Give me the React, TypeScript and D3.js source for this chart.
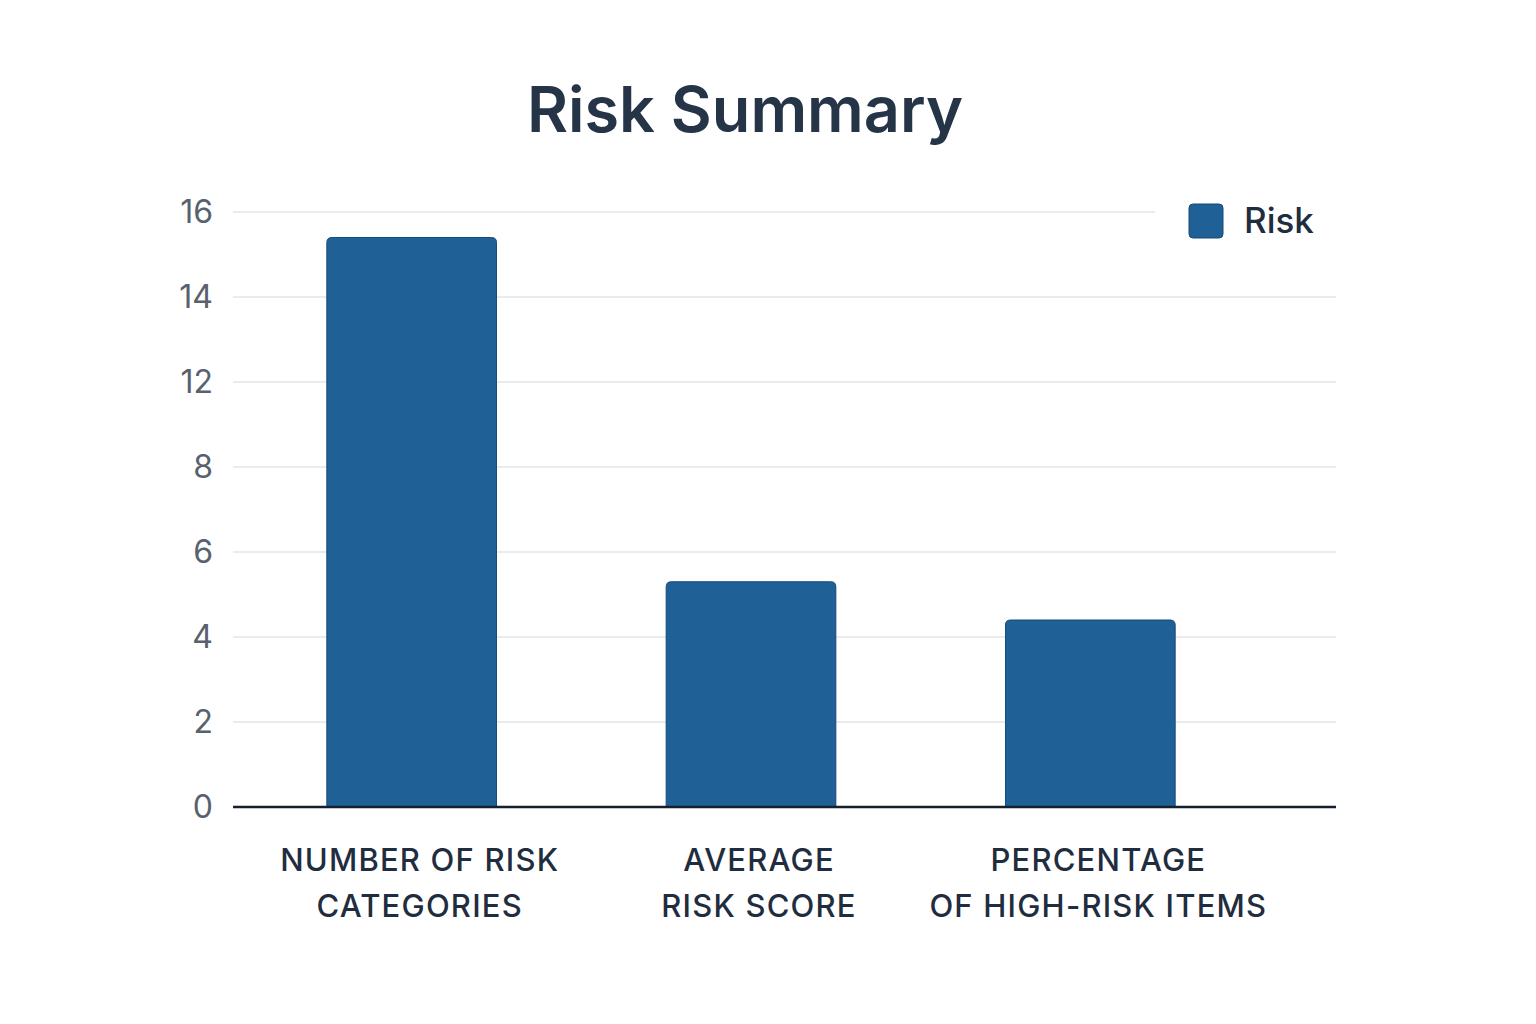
import React, { useRef, useEffect } from 'react';
import * as d3 from 'd3';

// Chart data
const categories = [
  ['NUMBER OF RISK', 'CATEGORIES'],
  ['AVERAGE', 'RISK SCORE'],
  ['PERCENTAGE', 'OF HIGH-RISK ITEMS'],
];
const riskValues = [15.4, 5.3, 4.4];
// The axis in the picture skips 10, so the ticks are evenly spaced but not evenly valued
const yTickValues = [0, 2, 4, 6, 8, 12, 14, 16];
const seriesName = 'Risk';
const chartTitle = 'Risk Summary';

const WIDTH = 1536;
const HEIGHT = 1024;
const BAR_COLOR = '#1f6097';
const TEXT_DARK = '#1f2d3f';
const FONT = 'Inter, "Noto Sans", sans-serif';

export default function App() {
  const svgRef = useRef<SVGSVGElement>(null);

  useEffect(() => {
    if (!svgRef.current) return;
    const svg = d3.select(svgRef.current);
    svg.selectAll('*').remove();

    const plot = { left: 233, right: 1336, top: 212, bottom: 807 };

    // piecewise linear scale: each tick gets an equal slot
    const step = (plot.bottom - plot.top) / (yTickValues.length - 1);
    const y = d3.scaleLinear()
      .domain(yTickValues)
      .range(yTickValues.map((_, i) => plot.bottom - i * step));

    const x = d3.scaleBand<number>()
      .domain(categories.map((_, i) => i))
      .range([242, 1260])
      .paddingInner(0.5)
      .paddingOuter(0.25);

    // background
    svg.append('rect')
      .attr('width', WIDTH)
      .attr('height', HEIGHT)
      .attr('fill', '#ffffff');

    // title
    svg.append('text')
      .attr('x', 745)
      .attr('y', 132)
      .attr('text-anchor', 'middle')
      .style('font-family', FONT)
      .style('font-size', '63px')
      .style('font-weight', 600)
      .style('fill', '#253447')
      .text(chartTitle);

    const legendX = 1189;

    // gridlines
    svg.append('g')
      .selectAll('line')
      .data(yTickValues.filter(v => v !== 0))
      .join('line')
      .attr('x1', plot.left)
      .attr('x2', (d, i) => (i === yTickValues.length - 2 ? legendX - 34 : plot.right))
      .attr('y1', d => y(d))
      .attr('y2', d => y(d))
      .attr('stroke', '#e2e4e7')
      .attr('stroke-width', 1.5);

    // y tick labels
    svg.append('g')
      .selectAll('text')
      .data(yTickValues)
      .join('text')
      .attr('x', 213)
      .attr('y', d => y(d) + 11)
      .attr('text-anchor', 'end')
      .style('font-family', FONT)
      .style('font-size', '32px')
      .style('fill', '#58626f')
      .text(d => d);

    // bars with rounded tops
    const r = 5;
    svg.append('g')
      .selectAll('path')
      .data(riskValues)
      .join('path')
      .attr('d', (d, i) => {
        const x0 = x(i)!;
        const w = x.bandwidth();
        const top = y(d);
        const bottom = y(0);
        return `M${x0},${bottom} L${x0},${top + r} Q${x0},${top} ${x0 + r},${top}` +
          ` L${x0 + w - r},${top} Q${x0 + w},${top} ${x0 + w},${top + r} L${x0 + w},${bottom} Z`;
      })
      .attr('fill', BAR_COLOR)
      .attr('stroke', '#174b78')
      .attr('stroke-width', 1);

    // baseline
    svg.append('line')
      .attr('x1', plot.left)
      .attr('x2', plot.right)
      .attr('y1', y(0))
      .attr('y2', y(0))
      .attr('stroke', '#15202e')
      .attr('stroke-width', 2.5);

    // category labels
    const labels = svg.append('g')
      .selectAll('text')
      .data(categories)
      .join('text')
      .attr('text-anchor', 'middle')
      .style('font-family', FONT)
      .style('font-size', '31px')
      .style('font-weight', 500)
      .style('letter-spacing', '1.2px')
      .style('fill', TEXT_DARK);

    labels.selectAll('tspan')
      .data((d, i) => d.map(line => ({ line, i })))
      .join('tspan')
      .attr('x', d => x(d.i)! + x.bandwidth() / 2 + 8)
      .attr('y', (d, j) => 871 + j * 46)
      .text(d => d.line);

    // legend
    svg.append('rect')
      .attr('x', legendX)
      .attr('y', 204)
      .attr('width', 34)
      .attr('height', 34)
      .attr('rx', 4)
      .attr('fill', BAR_COLOR)
      .attr('stroke', '#174b78')
      .attr('stroke-width', 1);

    svg.append('text')
      .attr('x', 1244)
      .attr('y', 233)
      .style('font-family', FONT)
      .style('font-size', '35px')
      .style('font-weight', 500)
      .style('fill', TEXT_DARK)
      .text(seriesName);
  }, []);

  return (
    <svg
      ref={svgRef}
      width={WIDTH}
      height={HEIGHT}
      style={{ position: 'absolute', top: 0, left: 0, display: 'block' }}
    />
  );
}
